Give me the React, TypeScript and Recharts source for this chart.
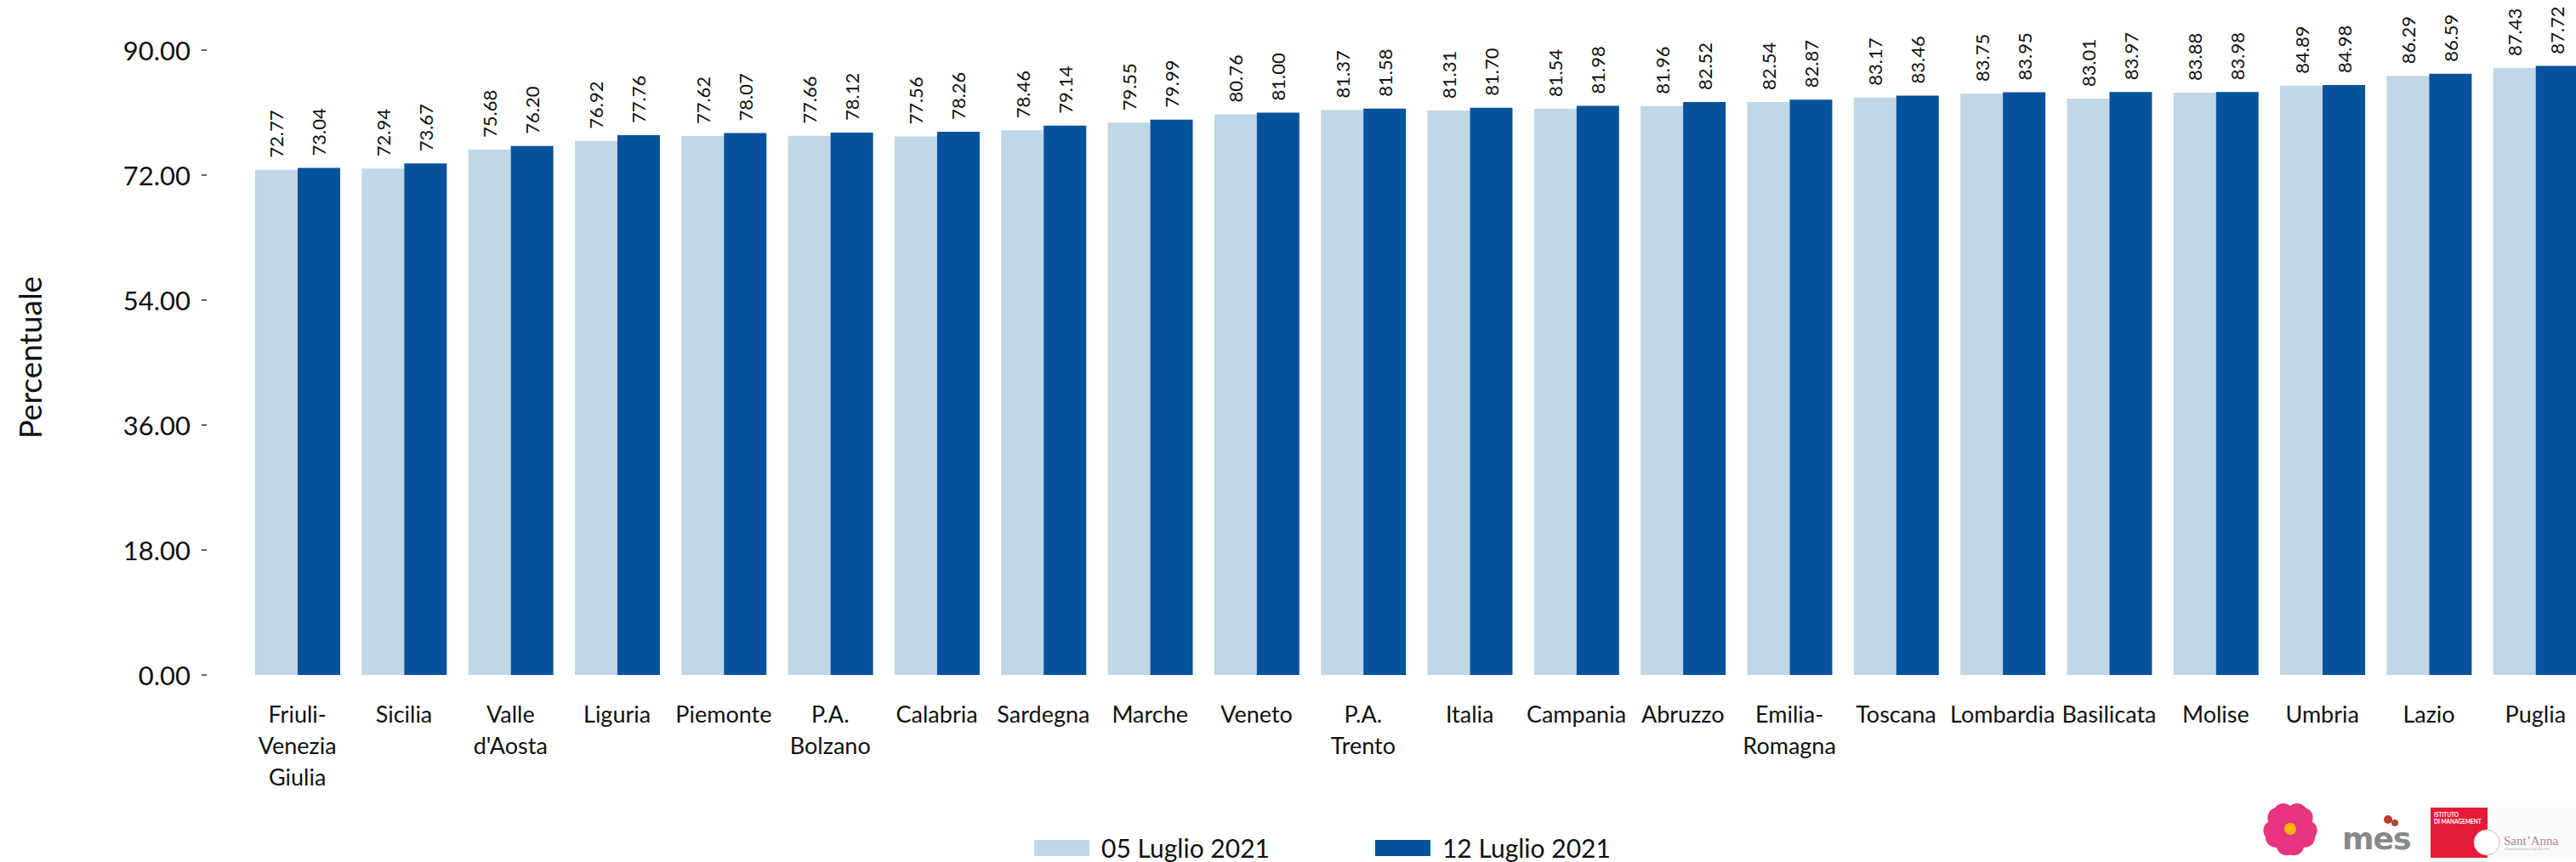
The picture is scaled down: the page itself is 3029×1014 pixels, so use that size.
import React from "react";
import { BarChart, Bar, XAxis, YAxis, LabelList } from "recharts";

// Regions, sorted by the 12 Luglio value
const categories = [
  "Friuli-\nVenezia\nGiulia",
  "Sicilia",
  "Valle\nd'Aosta",
  "Liguria",
  "Piemonte",
  "P.A.\nBolzano",
  "Calabria",
  "Sardegna",
  "Marche",
  "Veneto",
  "P.A.\nTrento",
  "Italia",
  "Campania",
  "Abruzzo",
  "Emilia-\nRomagna",
  "Toscana",
  "Lombardia",
  "Basilicata",
  "Molise",
  "Umbria",
  "Lazio",
  "Puglia",
];

const luglio05 = [
  72.77, 72.94, 75.68, 76.92, 77.62, 77.66, 77.56, 78.46, 79.55, 80.76, 81.37,
  81.31, 81.54, 81.96, 82.54, 83.17, 83.75, 83.01, 83.88, 84.89, 86.29, 87.43,
];

const luglio12 = [
  73.04, 73.67, 76.2, 77.76, 78.07, 78.12, 78.26, 79.14, 79.99, 81.0, 81.58,
  81.7, 81.98, 82.52, 82.87, 83.46, 83.95, 83.97, 83.98, 84.98, 86.59, 87.72,
];

const seriesNames = ["05 Luglio 2021", "12 Luglio 2021"];
const yTicks = [0, 18, 36, 54, 72, 90];

const LIGHT = "#bfd7e7";
const DARK = "#08529c";
const FONT = "Lato, 'Open Sans', sans-serif";

const data = categories.map((c, i) => ({
  region: c,
  a: luglio05[i],
  b: luglio12[i],
}));

// Rotated value above each bar
const ValueLabel = (props: any) => {
  const { x, y, width, value } = props;
  const cx = Number(x) + Number(width) / 2;
  const cy = Number(y) - 14;
  return (
    <text
      x={cx}
      y={cy}
      transform={`rotate(-90 ${cx} ${cy})`}
      textAnchor="start"
      dominantBaseline="central"
      fontFamily={FONT}
      fontSize={22}
      fill="#111"
    >
      {Number(value).toFixed(2)}
    </text>
  );
};

const YTick = (props: any) => {
  const { x, y, payload } = props;
  return (
    <g>
      <text
        x={x - 63}
        y={y}
        textAnchor="end"
        dominantBaseline="central"
        fontFamily={FONT}
        fontSize={31}
        fill="#111"
      >
        {Number(payload.value).toFixed(2)}
      </text>
      <line x1={x - 50} x2={x - 44} y1={y} y2={y} stroke="#333" strokeWidth={1.5} />
    </g>
  );
};

const XTick = (props: any) => {
  const { x, y, payload } = props;
  const lines = String(payload.value).split("\n");
  return (
    <text textAnchor="middle" fontFamily={FONT} fontSize={27} fill="#111">
      {lines.map((l, i) => (
        <tspan key={i} x={x} y={y + 56 + i * 37}>
          {l}
        </tspan>
      ))}
    </text>
  );
};

const YTitle = (props: any) => {
  const vb = props.viewBox || { x: 0, y: 0, height: 0 };
  const cx = vb.x + 34;
  const cy = vb.y + vb.height / 2 - 6;
  return (
    <text
      x={cx}
      y={cy}
      transform={`rotate(-90 ${cx} ${cy})`}
      textAnchor="middle"
      dominantBaseline="central"
      fontFamily={FONT}
      fontSize={37}
      fill="#111"
    >
      Percentuale
    </text>
  );
};

const Logos = () => (
  <svg
    width={3029}
    height={1014}
    style={{ position: "absolute", left: 0, top: 0, pointerEvents: "none" }}
  >
    {/* flower */}
    <g transform="translate(2693 975)">
      {[0, 72, 144, 216, 288].map((a) => (
        <g key={a} transform={`rotate(${a})`}>
          <circle cx={-8} cy={-18} r={12} fill="#e8337f" />
          <circle cx={8} cy={-18} r={12} fill="#e8337f" />
          <circle cx={0} cy={-10} r={10} fill="#e8337f" />
        </g>
      ))}
      <circle r={7} fill="#f9b800" />
    </g>
    {/* mes */}
    <text x={2754} y={999} fontFamily="'DejaVu Sans', sans-serif" fontWeight="bold" fontSize={36} fill="#888" letterSpacing={-1}>
      mes
    </text>
    <circle cx={2808} cy={964} r={5} fill="#c0392b" />
    <circle cx={2816} cy={968} r={4} fill="#a0522d" />
    {/* Istituto di Management */}
    <rect x={2858} y={950} width={67} height={59} fill="#e31b37" />
    <text x={2862} y={961} fontFamily={FONT} fontSize={6.5} fontWeight="bold" fill="#fff">
      ISTITUTO
    </text>
    <text x={2862} y={969} fontFamily={FONT} fontSize={6.5} fontWeight="bold" fill="#fff">
      DI MANAGEMENT
    </text>
    {/* Sant'Anna */}
    <rect x={2925} y={950} width={104} height={60} fill="#fafafa" />
    <circle cx={2924} cy={991} r={15} fill="#fff" stroke="#d9b8b8" strokeWidth={1} />
    <text x={2944} y={994} fontFamily="'Liberation Serif', serif" fontSize={15} fill="#a88">
      Sant’Anna
    </text>
    <text x={2945} y={1000} fontFamily={FONT} fontSize={3.5} fill="#aaa">
      Scuola Universitaria Superiore Pisa
    </text>
  </svg>
);

const Legend = () => (
  <div
    style={{
      position: "absolute",
      left: 1216,
      top: 979,
      display: "flex",
      alignItems: "center",
      fontFamily: FONT,
      fontSize: 30,
      color: "#111",
      lineHeight: "36px",
    }}
  >
    {seriesNames.map((n, i) => (
      <div key={n} style={{ display: "flex", alignItems: "center", marginRight: i === 0 ? 124 : 0 }}>
        <div style={{ width: 65, height: 19, background: i === 0 ? LIGHT : DARK, marginRight: 14 }} />
        <span>{n}</span>
      </div>
    ))}
  </div>
);

export default function App() {
  return (
    <div
      style={{
        position: "absolute",
        left: 0,
        top: 0,
        width: 3029,
        height: 1014,
        overflow: "hidden",
        background: "#fff",
      }}
    >
      <BarChart
        width={3060}
        height={1014}
        data={data}
        margin={{ top: 59, right: 16, bottom: 80, left: 0 }}
        barCategoryGap={13}
        barGap={0}
      >
        <XAxis
          dataKey="region"
          interval={0}
          height={140}
          axisLine={false}
          tickLine={false}
          tickSize={0}
          tickMargin={0}
          tick={<XTick />}
        />
        <YAxis
          width={287}
          domain={[0, 90]}
          ticks={yTicks}
          axisLine={false}
          tickLine={false}
          tickSize={0}
          tickMargin={0}
          tick={<YTick />}
          label={<YTitle />}
        />
        <Bar dataKey="a" name={seriesNames[0]} fill={LIGHT} isAnimationActive={false}>
          <LabelList dataKey="a" content={<ValueLabel />} />
        </Bar>
        <Bar dataKey="b" name={seriesNames[1]} fill={DARK} isAnimationActive={false}>
          <LabelList dataKey="b" content={<ValueLabel />} />
        </Bar>
      </BarChart>
      <Legend />
      <Logos />
    </div>
  );
}
